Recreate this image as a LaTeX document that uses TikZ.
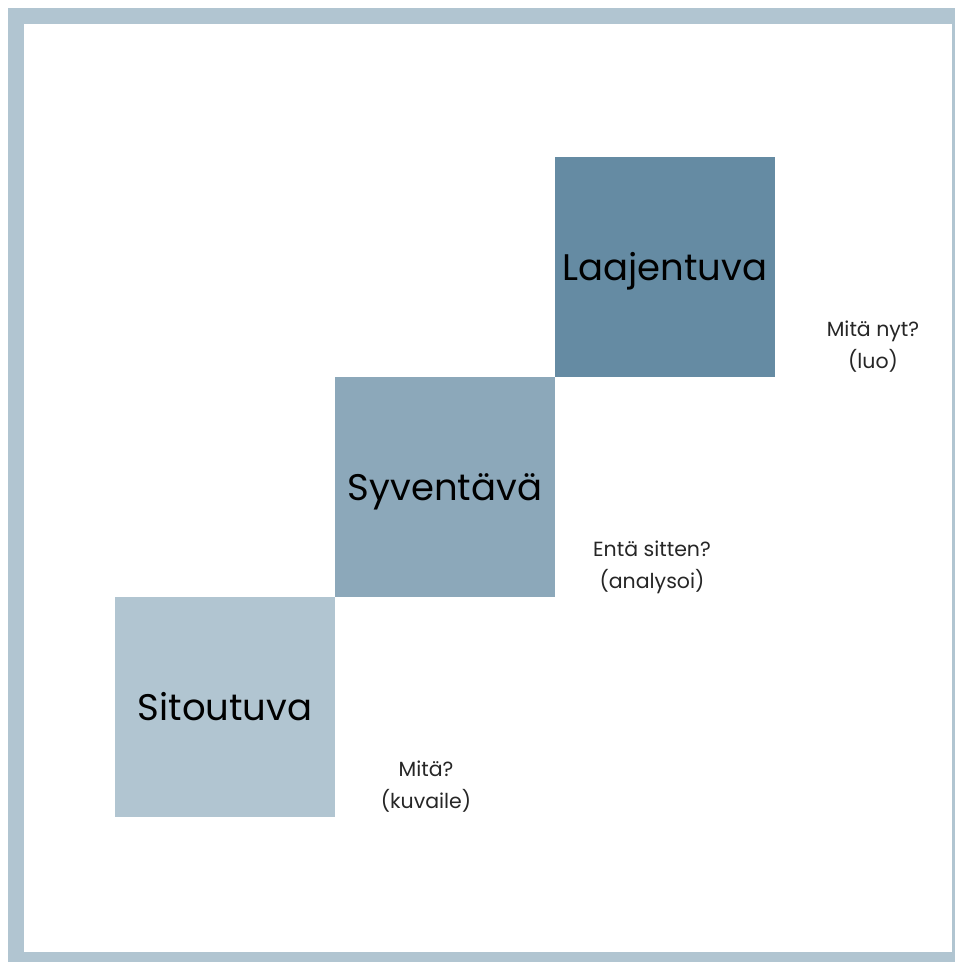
\documentclass[tikz,border=0pt]{standalone}
\usepackage{fontspec}
\setmainfont{Poppins}
\usepackage{tikz}
\usetikzlibrary{positioning}
\definecolor{frameblue}{RGB}{177,197,209}
\definecolor{lightstep}{RGB}{177,197,209}
\definecolor{midstep}{RGB}{140,168,186}
\definecolor{darkstep}{RGB}{101,139,163}
\tikzset{
    stepbox/.style={
        minimum width=220pt, minimum height=220pt,
        inner sep=0pt, outer sep=0pt,
        text height=26pt, text depth=0pt,
        font=\fontsize{37}{40}\selectfont, text=black,
    },
    question/.style={
        align=center, inner sep=0pt,
        font=\fontsize{20.5}{32}\selectfont, text=black!85,
    },
}

\begin{document}
\begin{tikzpicture}[x=1pt,y=-1pt]
\useasboundingbox (0,0) rectangle (955,962);
\fill[white] (0,0) rectangle (955,962);

% Frame
\draw[frameblue, line width=16pt] (16,16) rectangle (960,960);

% Steps
\node[stepbox, fill=lightstep, anchor=north west] (sit) at (115,597) {Sitoutuva};
\node[stepbox, fill=midstep, anchor=south west] (syv) at (sit.north east) {Syventävä};
\node[stepbox, fill=darkstep, anchor=south west] (laa) at (syv.north east) {Laajentuva};

% Questions
\node[question] (q1) at (426,787) {Mitä?\\(kuvaile)};
\node[question] (q2) at (652,567) {Entä sitten?\\(analysoi)};
\node[question] (q3) at (873,347) {Mitä nyt?\\(luo)};

\end{tikzpicture}
\end{document}
